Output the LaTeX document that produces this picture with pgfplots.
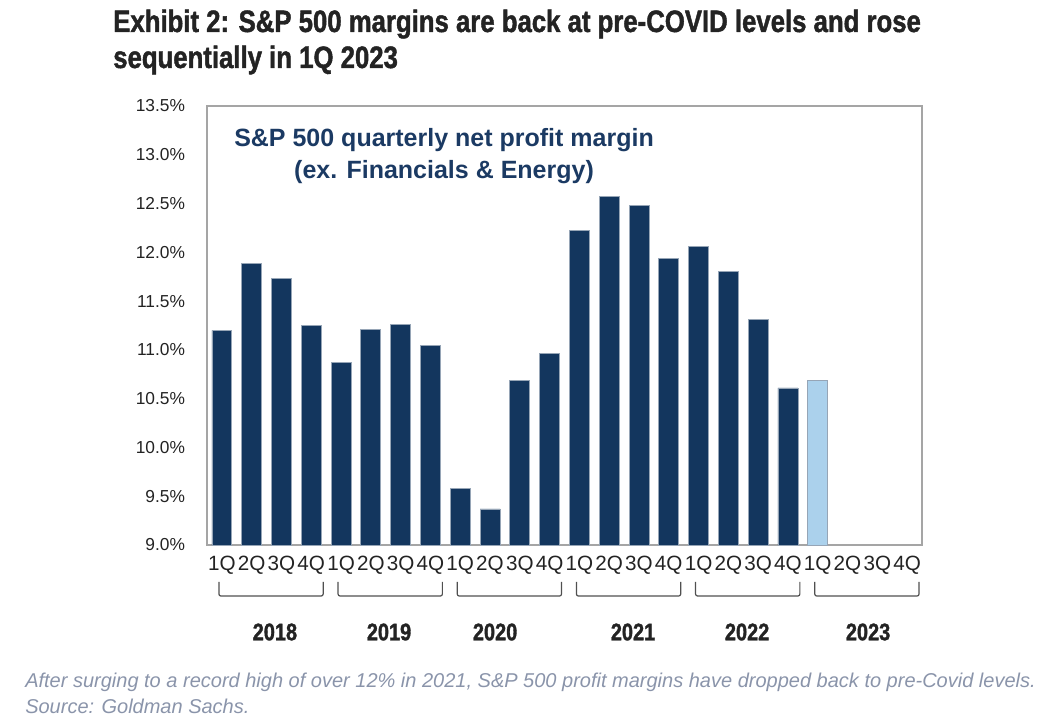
\documentclass[border=0pt]{standalone}
\usepackage{pgfplots}
\pgfplotsset{compat=1.18}
\usepackage{fontspec}
\setmainfont{Liberation Sans}
\newfontfamily\condfont[FakeStretch=0.832,FakeBold=1.4]{Liberation Sans}
\definecolor{navy}{RGB}{19,54,94}
\definecolor{lightbar}{RGB}{171,209,236}
\definecolor{barline}{RGB}{150,165,182}
\definecolor{innerc}{RGB}{27,58,99}
\definecolor{capgray}{RGB}{138,148,170}
\definecolor{framec}{RGB}{165,165,165}
\definecolor{ticktext}{RGB}{35,35,35}
\definecolor{brackc}{RGB}{80,80,80}

\pgfplotstableread{
x y
0 11.20
1 11.89
2 11.73
3 11.25
4 10.87
5 11.21
6 11.26
7 11.05
8 9.58
9 9.37
10 10.69
11 10.96
12 12.22
13 12.57
14 12.48
15 11.94
16 12.06
17 11.80
18 11.31
19 10.61
}\darkdata
\pgfplotstableread{
x y
20 10.69
}\lightdata

\begin{document}
\begin{tikzpicture}[x=0.75pt,y=0.75pt]
\path[use as bounding box] (0,0) rectangle (1042,719);
\node[anchor=base west, inner sep=0, text=ticktext, font=\condfont\bfseries\fontsize{23.2}{27}\selectfont] at (113,687) {Exhibit 2: S\&P 500 margins are back at pre-COVID levels and rose};
\node[anchor=base west, inner sep=0, text=ticktext, font=\condfont\bfseries\fontsize{23.2}{27}\selectfont] at (113,651) {sequentially in 1Q 2023};
\begin{axis}[
  at={(155.25pt,130.5pt)}, anchor=south west,
  scale only axis, width=536.25pt, height=329.25pt,
  xmin=-0.5, xmax=23.5, ymin=9, ymax=13.5,
  ytick={9,9.5,10,10.5,11,11.5,12,12.5,13,13.5},
  yticklabels={9.0\%,9.5\%,10.0\%,10.5\%,11.0\%,11.5\%,12.0\%,12.5\%,13.0\%,13.5\%},
  xtick={0,1,2,3,4,5,6,7,8,9,10,11,12,13,14,15,16,17,18,19,20,21,22,23},
  xticklabels={1Q,2Q,3Q,4Q,1Q,2Q,3Q,4Q,1Q,2Q,3Q,4Q,1Q,2Q,3Q,4Q,1Q,2Q,3Q,4Q,1Q,2Q,3Q,4Q},
  major tick length=0pt,
  axis line style={framec, line width=1.1pt},
  ybar, bar width=0.67, bar shift=0pt,
  clip mode=individual,
  tick label style={text=ticktext},
  yticklabel style={font=\fontsize{13}{15}\selectfont},
  xticklabel style={font=\fontsize{15.5}{17}\selectfont, inner xsep=0pt},
  yticklabel shift=13pt, xticklabel shift=5pt,
]
\addplot[fill=navy, draw=barline, line width=0.6pt] table[x=x,y=y]{\darkdata};
\addplot[fill=lightbar, draw=barline, line width=0.6pt] table[x=x,y=y]{\lightdata};
\node[anchor=base, text=innerc, font=\bfseries\fontsize{18.75}{22}\selectfont] at (axis cs:7.456,13.09) {S\&P 500 quarterly net profit margin};
\node[anchor=base, text=innerc, font=\bfseries\fontsize{18.75}{22}\selectfont] at (axis cs:7.456,12.762) {(ex. Financials \& Energy)};
\draw[brackc, line width=0.9pt, rounded corners=1.5pt] (axis cs:-0.1,8.621) -- (axis cs:-0.1,8.477) -- (axis cs:3.4,8.477) -- (axis cs:3.4,8.621);
\draw[brackc, line width=0.9pt, rounded corners=1.5pt] (axis cs:3.9,8.621) -- (axis cs:3.9,8.477) -- (axis cs:7.4,8.477) -- (axis cs:7.4,8.621);
\draw[brackc, line width=0.9pt, rounded corners=1.5pt] (axis cs:7.9,8.621) -- (axis cs:7.9,8.477) -- (axis cs:11.4,8.477) -- (axis cs:11.4,8.621);
\draw[brackc, line width=0.9pt, rounded corners=1.5pt] (axis cs:11.9,8.621) -- (axis cs:11.9,8.477) -- (axis cs:15.4,8.477) -- (axis cs:15.4,8.621);
\draw[brackc, line width=0.9pt, rounded corners=1.5pt] (axis cs:15.9,8.621) -- (axis cs:15.9,8.477) -- (axis cs:19.4,8.477) -- (axis cs:19.4,8.621);
\draw[brackc, line width=0.9pt, rounded corners=1.5pt] (axis cs:19.9,8.621) -- (axis cs:19.9,8.477) -- (axis cs:23.4,8.477) -- (axis cs:23.4,8.621);
\node[text=ticktext, font=\condfont\bfseries\fontsize{18}{20}\selectfont] at (axis cs:1.78,8.108) {2018};
\node[text=ticktext, font=\condfont\bfseries\fontsize{18}{20}\selectfont] at (axis cs:5.61,8.108) {2019};
\node[text=ticktext, font=\condfont\bfseries\fontsize{18}{20}\selectfont] at (axis cs:9.17,8.108) {2020};
\node[text=ticktext, font=\condfont\bfseries\fontsize{18}{20}\selectfont] at (axis cs:13.80,8.108) {2021};
\node[text=ticktext, font=\condfont\bfseries\fontsize{18}{20}\selectfont] at (axis cs:17.63,8.108) {2022};
\node[text=ticktext, font=\condfont\bfseries\fontsize{18}{20}\selectfont] at (axis cs:21.69,8.108) {2023};
\end{axis}
\node[anchor=base west, inner sep=0, text=capgray, font=\itshape\fontsize{15}{18}\selectfont] at (25,32) {After surging to a record high of over 12\% in 2021, S\&P 500 profit margins have dropped back to pre-Covid levels.};
\node[anchor=base west, inner sep=0, text=capgray, font=\itshape\fontsize{15}{18}\selectfont] at (25,6) {Source: Goldman Sachs.};
\end{tikzpicture}
\end{document}
